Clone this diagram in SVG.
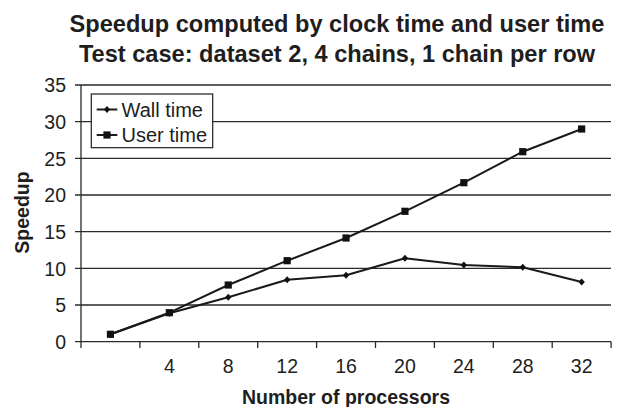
<svg xmlns="http://www.w3.org/2000/svg" width="620" height="407" viewBox="0 0 620 407">
<defs>
<style>
text{font-family:"Liberation Sans",Arial,sans-serif;fill:#1e1e1e}
.title{font-size:23.6px;font-weight:bold;text-anchor:middle}
.axt{font-size:19.5px;font-weight:bold;text-anchor:middle}
.tk{font-size:19.5px}
.ty{text-anchor:end}
.tx{text-anchor:middle}
.leg{font-size:20px}
.grid{stroke:#2a2a2a;stroke-width:1.3;fill:none}
.ser{stroke:#1a1a1a;stroke-width:2;fill:none;stroke-linejoin:round}
</style>
<marker id="sq" viewBox="-4 -4 8 8" markerWidth="8" markerHeight="8" markerUnits="userSpaceOnUse" refX="0" refY="0"><rect x="-3.6" y="-3.6" width="7.2" height="7.2" fill="#111"/></marker>
<marker id="dm" viewBox="-4 -4 8 8" markerWidth="8" markerHeight="8" markerUnits="userSpaceOnUse" refX="0" refY="0"><path d="M0,-3.5 L3.2,0 L0,3.5 L-3.2,0 Z" fill="#111"/></marker>
</defs>
<rect width="620" height="407" fill="#fff"/>
<g id="title">
<text class="title" x="337" y="31.5">Speedup computed by clock time and user time</text>
<text class="title" x="337" y="62">Test case: dataset 2, 4 chains, 1 chain per row</text>
</g>
<g id="grid">
<path class="grid" d="M81,85H611M81,121.7H611M81,158.3H611M81,195H611M81,231.7H611M81,268.3H611M81,305H611"/>
<path class="grid" d="M75,85H81M75,121.7H81M75,158.3H81M75,195H81M75,231.7H81M75,268.3H81M75,305H81M75,341.7H81"/>
</g>
<g id="axes">
<path class="grid" d="M81,85V341.7H611.1"/>
<path class="grid" d="M81,341.7V348M139.9,341.7V348M198.8,341.7V348M257.7,341.7V348M316.6,341.7V348M375.5,341.7V348M434.4,341.7V348M493.3,341.7V348M552.2,341.7V348M611.1,341.7V348"/>
</g>
<g id="y-labels">
<text class="tk ty" x="66" y="92.3">35</text>
<text class="tk ty" x="66" y="128.9">30</text>
<text class="tk ty" x="66" y="165.5">25</text>
<text class="tk ty" x="66" y="202.2">20</text>
<text class="tk ty" x="66" y="238.9">15</text>
<text class="tk ty" x="66" y="275.5">10</text>
<text class="tk ty" x="66" y="312.2">5</text>
<text class="tk ty" x="66" y="348.9">0</text>
</g>
<g id="x-labels">
<text class="tk tx" x="169.35" y="372.5">4</text>
<text class="tk tx" x="228.25" y="372.5">8</text>
<text class="tk tx" x="287.15" y="372.5">12</text>
<text class="tk tx" x="346.05" y="372.5">16</text>
<text class="tk tx" x="404.95" y="372.5">20</text>
<text class="tk tx" x="463.85" y="372.5">24</text>
<text class="tk tx" x="522.75" y="372.5">28</text>
<text class="tk tx" x="581.65" y="372.5">32</text>
</g>
<g id="axis-titles">
<text class="axt" x="346" y="404">Number of processors</text>
<text class="axt" transform="translate(29,212.5) rotate(-90)">Speedup</text>
</g>
<g id="connectors">
<polyline id="wall-series" class="ser" marker-start="url(#dm)" marker-mid="url(#dm)" marker-end="url(#dm)" points="110.45,334.3 169.35,313.3 228.25,297.3 287.15,279.7 346.05,275.3 404.95,258.3 463.85,265 522.75,267.3 581.65,282"/>
<polyline id="user-series" class="ser" marker-start="url(#sq)" marker-mid="url(#sq)" marker-end="url(#sq)" points="110.45,334.3 169.35,312.7 228.25,285 287.15,260.7 346.05,238 404.95,211.3 463.85,182.7 522.75,151.7 581.65,129"/>
</g>
<g id="legend">
<rect x="91.3" y="94" width="121.4" height="53.7" fill="#fff" stroke="#1e1e1e" stroke-width="1.2"/>
<path class="ser" d="M96.7,109.5H117.3"/>
<path class="ser" d="M96.7,135H117.3"/>
<path d="M107,106 L110.2,109.5 L107,113 L103.8,109.5Z" fill="#111"/>
<rect x="103.4" y="131.4" width="7.2" height="7.2" fill="#111"/>
<text class="leg" x="121.5" y="116.5">Wall time</text>
<text class="leg" x="121.5" y="142">User time</text>
</g>
</svg>
